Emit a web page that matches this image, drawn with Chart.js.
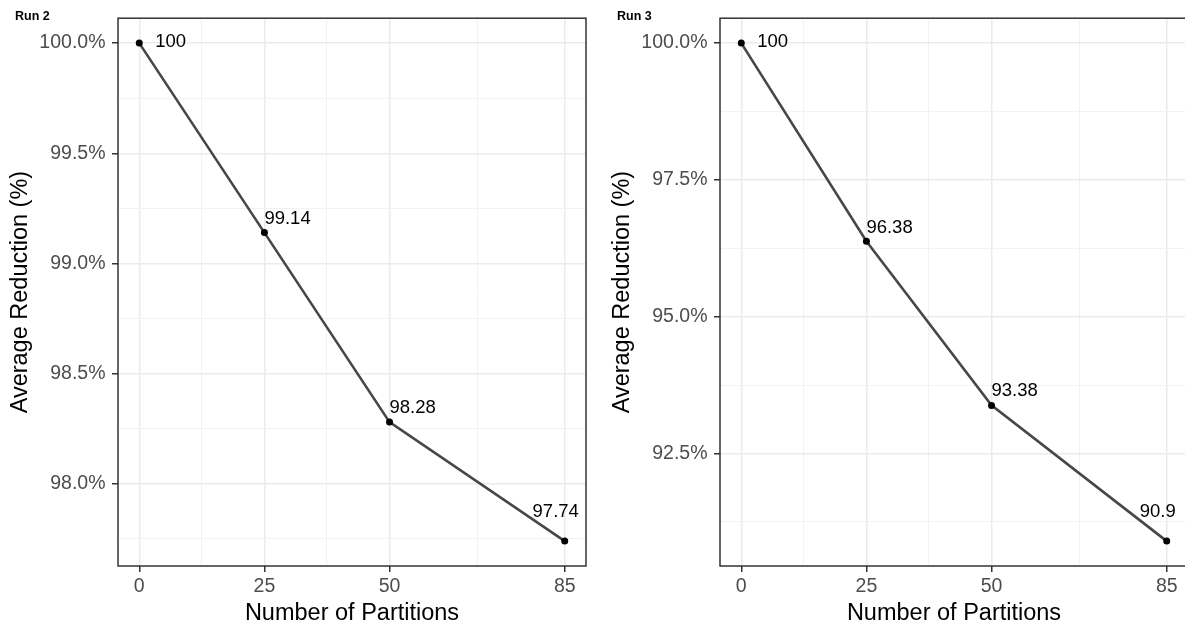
<!DOCTYPE html>
<html>
<head>
<meta charset="utf-8">
<script src="https://cdn.jsdelivr.net/npm/chart.js@4.4.0/dist/chart.umd.min.js"></script>
<style>
  html, body { margin: 0; padding: 0; background: #fff; overflow: hidden; }
  #page { position: relative; width: 1185px; height: 628px; overflow: hidden; }
  .panel { position: absolute; top: 0; width: 600px; height: 628px; }
  .panel canvas { position: absolute; left: 0; top: 0; }
  .tag { position: absolute; left: 15px; top: 8px; font: bold 12.5px "Liberation Sans", Arial, sans-serif; line-height: 16px; color: #000; }
</style>
</head>
<body>
<div id="page">
  <div class="panel" style="left:0"><canvas id="run2" width="600" height="628"></canvas><div class="tag">Run 2</div></div>
  <div class="panel" style="left:602px"><canvas id="run3" width="600" height="628"></canvas><div class="tag">Run 3</div></div>
</div>
<script>
// data
const partitions = [0, 25, 50, 85];
const run2Reduction = [100, 99.14, 98.28, 97.74];
const run3Reduction = [100, 96.38, 93.38, 90.9];

// tick labels
const xTickValues = [0, 25, 50, 85];
const xMinorTicks = [12.5, 37.5, 67.5];
const run2YTicks = [98.0, 98.5, 99.0, 99.5, 100.0];
const run2YMinor = [97.75, 98.25, 98.75, 99.25, 99.75];
const run3YTicks = [92.5, 95.0, 97.5, 100.0];
const run3YMinor = [91.25, 93.75, 96.25, 98.75];

// label placement next to each point
const labelOffsets = [
    { dx: 16, dy: -1, align: "left" },
    { dx: 0, dy: -13.5, align: "left" },
    { dx: 0, dy: -14, align: "left" },
    { dx: -9, dy: -29, align: "center" }
];

const FONT = '"Liberation Sans", Arial, sans-serif';
Chart.defaults.font.family = FONT;

const panelBorder = {
    id: "panelBorder",
    beforeDatasetsDraw(chart) {
        const { ctx, chartArea: a } = chart;
        ctx.save();
        ctx.strokeStyle = "#333333";
        ctx.lineWidth = 1.5;
        ctx.strokeRect(a.left, a.top, a.right - a.left, a.bottom - a.top);
        ctx.restore();
    }
};

const pointLabels = {
    id: "pointLabels",
    afterDatasetsDraw(chart) {
        const ctx = chart.ctx;
        const meta = chart.getDatasetMeta(0);
        const ds = chart.data.datasets[0];
        ctx.save();
        ctx.font = "18.5px " + FONT;
        ctx.fillStyle = "#000";
        ctx.textBaseline = "middle";
        meta.data.forEach((pt, i) => {
            const o = labelOffsets[i];
            ctx.textAlign = o.align;
            ctx.fillText(String(ds.data[i].y), pt.x + o.dx, pt.y + o.dy);
        });
        ctx.restore();
    }
};

function makeChart(canvasId, values, yMajor, yMinor) {
    const lo = Math.min(...values), hi = Math.max(...values);
    const yPad = (hi - lo) * 0.05;
    const xLo = Math.min(...partitions), xHi = Math.max(...partitions);
    const xPad = (xHi - xLo) * 0.05;

    const gridFor = (minor) => ({
        color: c => minor.includes(c.tick.value) ? "#f2f2f2" : "#ebebeb",
        lineWidth: c => minor.includes(c.tick.value) ? 1 : 1.5,
        tickLength: 6,
        tickColor: c => minor.includes(c.tick.value) ? "rgba(0,0,0,0)" : "#333333",
        tickWidth: 1.5
    });

    new Chart(document.getElementById(canvasId), {
        type: "line",
        data: {
            datasets: [{
                data: partitions.map((p, i) => ({ x: p, y: values[i] })),
                borderColor: "#474747",
                borderWidth: 2.6,
                pointRadius: 3.5,
                pointBackgroundColor: "#000",
                pointBorderWidth: 0,
                tension: 0,
                clip: false
            }]
        },
        options: {
            responsive: false,
            animation: false,
            events: [],
            layout: { padding: { top: 16, right: 14, bottom: 0, left: 0 } },
            plugins: { legend: { display: false }, tooltip: { enabled: false } },
            scales: {
                x: {
                    type: "linear",
                    bounds: "data",
                    min: xLo - xPad,
                    max: xHi + xPad,
                    afterBuildTicks: s => {
                        s.ticks = [...xTickValues, ...xMinorTicks].sort((a, b) => a - b).map(v => ({ value: v }));
                    },
                    afterFit: s => { s.height = 62; },
                    grid: gridFor(xMinorTicks),
                    border: { display: false },
                    ticks: {
                        autoSkip: false,
                        maxRotation: 0,
                        padding: 3,
                        color: "#4d4d4d",
                        font: { size: 19.5 },
                        callback: v => xMinorTicks.includes(v) ? "" : String(v)
                    },
                    title: {
                        display: true,
                        text: "Number of Partitions",
                        color: "#000",
                        font: { size: 23.5 },
                        padding: { top: 0, bottom: 0 }
                    }
                },
                y: {
                    type: "linear",
                    bounds: "data",
                    min: lo - yPad,
                    max: hi + yPad,
                    afterBuildTicks: s => {
                        s.ticks = [...yMajor, ...yMinor].sort((a, b) => a - b).map(v => ({ value: v }));
                    },
                    afterFit: s => { s.width = 118; },
                    grid: gridFor(yMinor),
                    border: { display: false },
                    ticks: {
                        autoSkip: false,
                        padding: 6.5,
                        color: "#4d4d4d",
                        font: { size: 19.5 },
                        callback: v => yMinor.includes(v) ? "" : v.toFixed(1) + "%"
                    },
                    title: {
                        display: true,
                        text: "Average Reduction (%)",
                        color: "#000",
                        font: { size: 23.5 },
                        padding: { top: 6, bottom: 0 }
                    }
                }
            }
        },
        plugins: [panelBorder, pointLabels]
    });
}

makeChart("run2", run2Reduction, run2YTicks, run2YMinor);
makeChart("run3", run3Reduction, run3YTicks, run3YMinor);
</script>
</body>
</html>
